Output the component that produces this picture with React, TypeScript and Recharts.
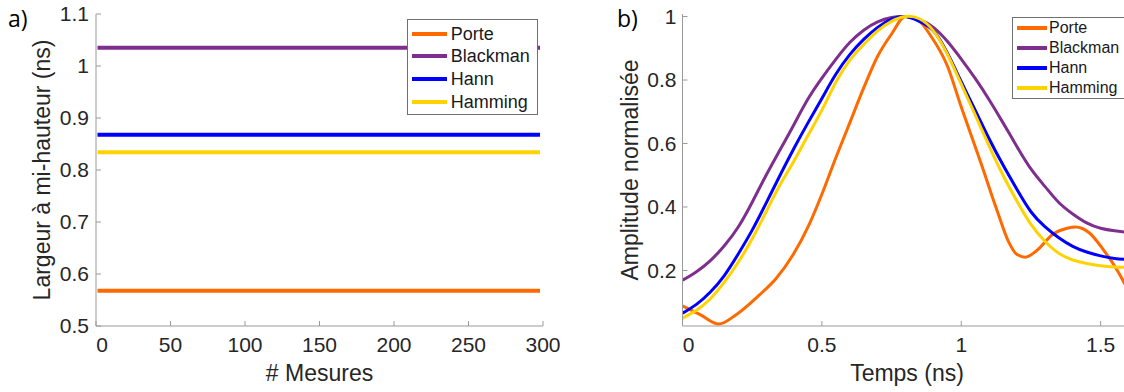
import React from 'react';
import { LineChart, Line, XAxis, YAxis, Label } from 'recharts';

// ---------- data ----------
const seriesNames = ['Porte', 'Blackman', 'Hann', 'Hamming'];
const seriesColors = ['#FF6A00', '#7E2F8E', '#0000FF', '#FFD300'];

// panel a) : FWHM vs measurement index
const mesures = [1, 298];
const largeurPorte = [0.568, 0.568];
const largeurBlackman = [1.035, 1.035];
const largeurHann = [0.868, 0.868];
const largeurHamming = [0.834, 0.834];
const mesureTicks = [0, 50, 100, 150, 200, 250, 300];
const largeurTicks = [0.5, 0.6, 0.7, 0.8, 0.9, 1, 1.1];

// panel b) : normalised pulses vs time
const temps = [0, 0.05, 0.1, 0.15, 0.2, 0.25, 0.3, 0.35, 0.4, 0.45, 0.5, 0.55, 0.6, 0.65, 0.7, 0.75, 0.8, 0.85, 0.9, 0.95, 1.0, 1.05, 1.1, 1.15, 1.2, 1.25, 1.3, 1.35, 1.4, 1.45, 1.5, 1.55, 1.6];
const ampBlackman = [0.169, 0.196, 0.231, 0.278, 0.337, 0.415, 0.5, 0.58, 0.66, 0.74, 0.806, 0.865, 0.918, 0.957, 0.983, 0.997, 1.0, 0.99, 0.966, 0.922, 0.866, 0.805, 0.738, 0.665, 0.59, 0.52, 0.465, 0.414, 0.378, 0.35, 0.333, 0.325, 0.32];
const ampHann = [0.065, 0.093, 0.132, 0.184, 0.252, 0.327, 0.412, 0.5, 0.585, 0.665, 0.742, 0.818, 0.88, 0.928, 0.966, 0.992, 1.0, 0.985, 0.955, 0.885, 0.795, 0.705, 0.615, 0.532, 0.455, 0.385, 0.338, 0.303, 0.276, 0.258, 0.246, 0.238, 0.234];
const ampHamming = [0.05, 0.075, 0.111, 0.163, 0.226, 0.3, 0.385, 0.47, 0.545, 0.625, 0.705, 0.793, 0.862, 0.912, 0.955, 0.985, 1.0, 0.993, 0.955, 0.882, 0.787, 0.69, 0.592, 0.5, 0.418, 0.345, 0.292, 0.254, 0.233, 0.222, 0.215, 0.211, 0.21];
const tempsPorte = [0, 0.065, 0.13, 0.19, 0.275, 0.335, 0.395, 0.455, 0.5, 0.55, 0.6, 0.65, 0.7, 0.75, 0.8, 0.85, 0.89, 0.95, 1.0, 1.07, 1.13, 1.17, 1.2, 1.23, 1.27, 1.33, 1.38, 1.41, 1.46, 1.51, 1.56, 1.6];
const ampPorte = [0.088, 0.06, 0.031, 0.059, 0.122, 0.174, 0.247, 0.346, 0.44, 0.555, 0.665, 0.775, 0.875, 0.945, 1.0, 0.985, 0.94, 0.845, 0.715, 0.54, 0.385, 0.29, 0.25, 0.242, 0.262, 0.315, 0.333, 0.337, 0.318, 0.265, 0.2, 0.135];
const tempsTicks = [0, 0.5, 1, 1.5];
const ampTicks = [0.2, 0.4, 0.6, 0.8, 1];

// tables built from the arrays
const leftData = mesures.map((m, i) => ({
  m,
  porte: largeurPorte[i],
  blackman: largeurBlackman[i],
  hann: largeurHann[i],
  hamming: largeurHamming[i],
}));
const rightData = temps.map((t, i) => ({
  t,
  blackman: ampBlackman[i],
  hann: ampHann[i],
  hamming: ampHamming[i],
}));
const porteData = tempsPorte.map((t, i) => ({ t, porte: ampPorte[i] }));

// ---------- styles ----------
const FONT = '"Liberation Sans", Arial, Helvetica, sans-serif';
const AXIS = '#9a9a9a';
const TXT = '#262626';
const TICK_FS = 21;
const LABEL_FS = 23;

const XTick = (props: any) => {
  const { x, y, payload } = props;
  const shift = payload.value === 0 ? 6 : 0;
  return (
    <text x={x + shift} y={y} dy="0.71em" textAnchor="middle" fill={TXT} fontSize={TICK_FS} fontFamily={FONT}>
      {String(payload.value)}
    </text>
  );
};

const LegendBox = (p: {
  left: number; top: number; width: number; height: number; rowH: number; padTop: number;
  padLeft: number; fontSize: number; lineLen: number; lineW: number; gap: number;
}) => (
  <div
    style={{
      position: 'absolute', left: p.left, top: p.top, width: p.width, height: p.height,
      boxSizing: 'border-box', border: '1px solid #707070', background: '#fff',
      paddingTop: p.padTop, paddingLeft: p.padLeft, fontFamily: FONT, fontSize: p.fontSize,
      color: '#1a1a1a', zIndex: 2,
    }}
  >
    {seriesNames.map((n, i) => (
      <div key={n} style={{ height: p.rowH, display: 'flex', alignItems: 'center', whiteSpace: 'nowrap' }}>
        <span style={{ display: 'inline-block', width: p.lineLen, height: p.lineW, background: seriesColors[i], marginRight: p.gap }} />
        <span style={{ lineHeight: 1 }}>{n}</span>
      </div>
    ))}
  </div>
);

export default function App() {
  return (
    <div style={{ position: 'absolute', left: 0, top: 0, width: 1124, height: 392, overflow: 'hidden', background: '#fff' }}>
      {/* panel a */}
      <div style={{ position: 'absolute', left: 0, top: 0, width: 560, height: 392 }}>
        <LineChart width={560} height={392} data={leftData} margin={{ top: 14, right: 17, bottom: 36, left: 36 }}>
          <XAxis
            dataKey="m" type="number" domain={[0, 300]} ticks={mesureTicks} interval={0}
            height={30} stroke={AXIS} tickSize={-5} tickMargin={16.5} tick={(p: any) => <XTick {...p} />}
          >
            <Label
              content={() => (
                <text x={319.5} y={381} textAnchor="middle" fill={TXT} fontSize={LABEL_FS} fontFamily={FONT}># Mesures</text>
              )}
            />
          </XAxis>
          <XAxis xAxisId="top" orientation="top" type="number" domain={[0, 300]} ticks={mesureTicks} interval={0}
            height={0} stroke={AXIS} tickSize={-5} tick={false} />
          <YAxis
            type="number" domain={[0.5, 1.1]} ticks={largeurTicks} interval={0} width={60} stroke={AXIS}
            tickSize={-5} tickMargin={12} tick={{ fill: TXT, fontSize: TICK_FS, fontFamily: FONT }}
          >
            <Label
              content={() => (
                <text x={50} y={170} transform="rotate(-90, 50, 170)" textAnchor="middle" fill={TXT} fontSize={LABEL_FS} fontFamily={FONT}>
                  Largeur à mi-hauteur (ns)
                </text>
              )}
            />
          </YAxis>
          <YAxis yAxisId="right" orientation="right" type="number" domain={[0.5, 1.1]} ticks={largeurTicks} interval={0}
            width={0} stroke={AXIS} tickSize={-5} tick={false} />
          <Line dataKey="porte" name="Porte" stroke={seriesColors[0]} strokeWidth={4} dot={false} isAnimationActive={false} type="linear" />
          <Line dataKey="blackman" name="Blackman" stroke={seriesColors[1]} strokeWidth={4} dot={false} isAnimationActive={false} type="linear" />
          <Line dataKey="hann" name="Hann" stroke={seriesColors[2]} strokeWidth={4} dot={false} isAnimationActive={false} type="linear" />
          <Line dataKey="hamming" name="Hamming" stroke={seriesColors[3]} strokeWidth={4} dot={false} isAnimationActive={false} type="linear" />
        </LineChart>
        <LegendBox left={406.7} top={19.3} width={131.6} height={95.7} rowH={22.8} padTop={1.9} padLeft={4}
          fontSize={18} lineLen={35} lineW={4} gap={4} />
      </div>

      {/* panel b */}
      <div style={{ position: 'absolute', left: 560, top: 0, width: 720, height: 392 }}>
        <LineChart width={720} height={392} data={rightData} margin={{ top: 14, right: 40, bottom: 36, left: 62.5 }}>
          <XAxis
            dataKey="t" type="number" domain={[0, 2]} ticks={tempsTicks} interval={0}
            height={30} stroke={AXIS} tickSize={-5} tickMargin={16.5} tick={(p: any) => <XTick {...p} />}
            allowDataOverflow
          >
            <Label
              content={() => (
                <text x={347} y={381} textAnchor="middle" fill={TXT} fontSize={LABEL_FS} fontFamily={FONT}>Temps (ns)</text>
              )}
            />
          </XAxis>
          <XAxis xAxisId="top" orientation="top" type="number" domain={[0, 2]} ticks={tempsTicks} interval={0}
            height={0} stroke={AXIS} tickSize={-5} tick={false} />
          <YAxis
            type="number" domain={[0.025, 1.008]} ticks={ampTicks} interval={0} width={60} stroke={AXIS}
            tickSize={-5} tickMargin={11} tick={{ fill: TXT, fontSize: TICK_FS, fontFamily: FONT }} allowDataOverflow
          >
            <Label
              content={() => (
                <text x={77.5} y={170} transform="rotate(-90, 77.5, 170)" textAnchor="middle" fill={TXT} fontSize={LABEL_FS} fontFamily={FONT}>
                  Amplitude normalisée
                </text>
              )}
            />
          </YAxis>
          <Line data={porteData} dataKey="porte" name="Porte" stroke={seriesColors[0]} strokeWidth={3} dot={false} isAnimationActive={false} type="monotone" />
          <Line dataKey="blackman" name="Blackman" stroke={seriesColors[1]} strokeWidth={3} dot={false} isAnimationActive={false} type="natural" />
          <Line dataKey="hann" name="Hann" stroke={seriesColors[2]} strokeWidth={3} dot={false} isAnimationActive={false} type="natural" />
          <Line dataKey="hamming" name="Hamming" stroke={seriesColors[3]} strokeWidth={3} dot={false} isAnimationActive={false} type="natural" />
        </LineChart>
        <LegendBox left={451.7} top={16.5} width={124} height={82.8} rowH={20} padTop={0.8} padLeft={4}
          fontSize={16} lineLen={30} lineW={4} gap={2.3} />
      </div>

      {/* panel letters */}
      <svg width={1124} height={392} style={{ position: 'absolute', left: 0, top: 0, pointerEvents: 'none', zIndex: 3 }}>
        <text x={8} y={27} fontSize={23} fontFamily='"Open Sans", sans-serif' fill="#000">a)</text>
        <text x={617} y={27} fontSize={23} fontFamily='"Open Sans", sans-serif' fill="#000">b)</text>
      </svg>
    </div>
  );
}
